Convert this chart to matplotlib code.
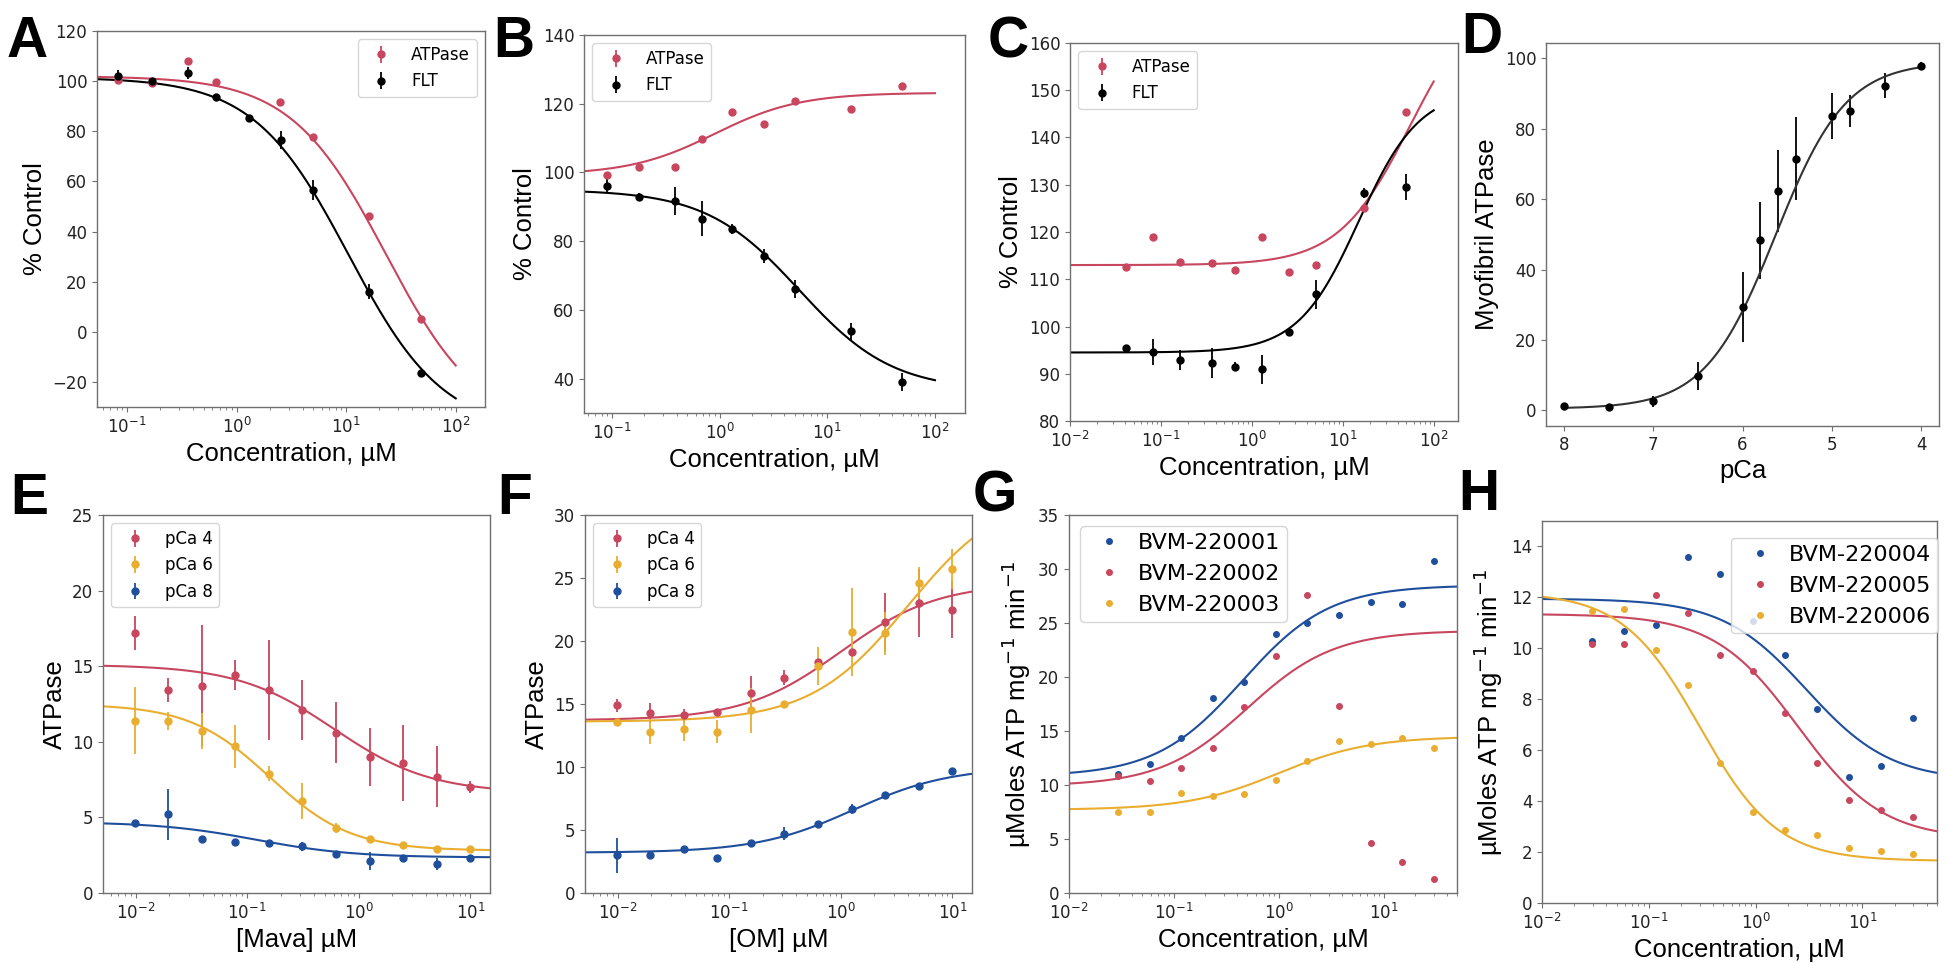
import numpy as np
import matplotlib.pyplot as plt

RED = '#c8465e'
YELLOW = '#e9ad2f'
BLUE = '#1f4f9c'
BLACK = 'black'
LABEL_FONT = 'Liberation Sans'

# A
a_conc_atp = [0.083, 0.17, 0.36, 0.65, 2.5, 5.0, 16.0, 48.0]
a_atp = [100.4, 99.3, 108.2, 99.7, 91.6, 77.9, 46.3, 5.2]
a_atp_err = [0.8, 0.8, 0.8, 0.8, 0.8, 0.8, 0.8, 0.8]
a_conc_flt = [0.083, 0.17, 0.36, 0.65, 1.29, 2.55, 5.0, 16.3, 48.0]
a_flt = [102.0, 99.9, 103.3, 93.6, 85.4, 76.5, 56.4, 16.0, -16.6]
a_flt_err = [2.5, 1.0, 2.5, 1.0, 1.2, 3.5, 4.0, 3.0, 1.5]
a_fit_atp = (102.0, -40.0, 23.0, 1.0)
a_fit_flt = (101.5, -40.0, 10.5, 1.0)

# B
b_conc = [0.09, 0.178, 0.385, 0.69, 1.31, 2.58, 5.0, 16.5, 49.0]
b_atp = [99.2, 101.7, 101.7, 109.6, 117.5, 114.1, 120.9, 118.4, 125.1]
b_atp_err = [0.8, 0.8, 0.8, 0.8, 0.8, 0.8, 0.8, 0.8, 0.8]
b_flt = [96.2, 92.9, 91.7, 86.6, 83.6, 75.6, 66.1, 53.8, 39.0]
b_flt_err = [2.0, 1.0, 4.0, 5.0, 1.5, 2.0, 2.5, 2.5, 2.5]
b_fit_atp = (99.3, 123.2, 0.9, 1.1)
b_fit_flt = (95.0, 36.5, 5.5, 1.0)

# C
c_conc = [0.041, 0.082, 0.163, 0.362, 0.645, 1.3, 2.57, 5.1, 16.9, 50.0]
c_atp = [112.6, 118.9, 113.7, 113.5, 111.9, 118.9, 111.5, 113.1, 125.1, 145.5]
c_atp_err = [0.5, 0.5, 0.5, 0.5, 0.5, 0.5, 0.5, 0.5, 0.5, 0.5]
c_flt = [95.4, 94.6, 92.9, 92.3, 91.5, 90.9, 98.8, 106.8, 128.3, 129.5]
c_flt_err = [0.5, 2.8, 2.2, 3.2, 1.0, 3.0, 0.5, 3.0, 1.0, 2.8]
c_fit_atp = (113.0, 172.0, 55.0, 1.1)
c_fit_flt = (94.5, 150.1, 15.0, 1.3)

# D
d_pca = [8.0, 7.5, 7.0, 6.5, 6.0, 5.8, 5.6, 5.4, 5.0, 4.8, 4.4, 4.0]
d_atp = [1.2, 1.0, 2.6, 9.8, 29.4, 48.3, 62.3, 71.5, 83.6, 84.9, 92.2, 97.7]
d_err = [0.3, 0.3, 1.5, 4.0, 10.0, 11.0, 11.5, 11.7, 6.5, 4.5, 3.5, 1.2]
d_fit = (0.5, 99.0, 5.63, 1.1)

# E, F
ef_conc = [0.00977, 0.0195, 0.039, 0.078, 0.156, 0.3125, 0.625, 1.25, 2.5, 5.0, 10.0]
e_p4 = [17.2, 13.4, 13.7, 14.4, 13.4, 12.1, 10.6, 9.0, 8.6, 7.7, 7.0]
e_p4_err = [1.1, 0.8, 4.0, 1.0, 3.3, 2.0, 2.0, 1.9, 2.5, 2.0, 0.4]
e_p6 = [11.4, 11.4, 10.7, 9.7, 7.9, 6.1, 4.3, 3.6, 3.2, 2.9, 2.9]
e_p6_err = [2.2, 0.6, 1.2, 1.4, 0.5, 1.2, 0.3, 0.2, 0.1, 0.1, 0.1]
e_p8 = [4.6, 5.2, 3.6, 3.4, 3.3, 3.1, 2.6, 2.1, 2.3, 1.9, 2.3]
e_p8_err = [0.1, 1.7, 0.1, 0.2, 0.1, 0.3, 0.1, 0.6, 0.1, 0.4, 0.1]
e_fits = [(15.1, 6.6, 0.6, 1.0), (12.5, 2.8, 0.16, 1.2), (4.7, 2.35, 0.12, 1.0)]

f_p4 = [14.9, 14.3, 14.1, 14.4, 15.9, 17.1, 18.3, 19.1, 21.5, 23.0, 22.5]
f_p4_err = [0.5, 0.8, 0.5, 0.2, 1.3, 0.6, 0.3, 0.3, 2.3, 2.7, 2.3]
f_p6 = [13.6, 12.8, 13.0, 12.8, 14.5, 15.0, 18.0, 20.7, 20.6, 24.6, 25.7]
f_p6_err = [0.2, 1.0, 0.9, 0.9, 1.8, 0.2, 1.5, 3.5, 1.7, 1.3, 1.6]
f_p8 = [3.0, 3.0, 3.5, 2.8, 4.0, 4.7, 5.5, 6.7, 7.8, 8.5, 9.7]
f_p8_err = [1.4, 0.1, 0.1, 0.1, 0.1, 0.5, 0.1, 0.4, 0.1, 0.1, 0.2]
f_fits = [(13.7, 24.6, 1.0, 1.0), (13.6, 32.0, 4.0, 1.0), (3.2, 10.0, 1.3, 1.0)]

pca_labels = ['pCa 4', 'pCa 6', 'pCa 8']

# G, H
gh_conc = [0.0293, 0.0586, 0.117, 0.234, 0.469, 0.9375, 1.875, 3.75, 7.5, 15.0, 30.0]
g_1 = [11.0, 11.9, 14.35, 18.05, 19.5, 24.0, 25.0, 25.7, 26.9, 26.75, 30.7]
g_2 = [10.8, 10.4, 11.6, 13.4, 17.2, 21.9, 27.6, 17.3, 4.6, 2.85, 1.33]
g_3 = [7.5, 7.5, 9.3, 9.0, 9.2, 10.5, 12.2, 14.1, 13.8, 14.35, 13.4]
g_fits = [(10.8, 28.5, 0.45, 1.05), (9.9, 24.3, 0.5, 1.05), (7.7, 14.5, 1.0, 1.0)]
g_labels = ['BVM-220001', 'BVM-220002', 'BVM-220003']

h_4 = [10.3, 10.67, 10.93, 13.59, 12.9, 11.06, 9.74, 7.6, 4.95, 5.39, 7.28]
h_5 = [10.17, 10.17, 12.08, 11.4, 9.73, 9.12, 7.46, 5.51, 4.06, 3.64, 3.38]
h_6 = [11.48, 11.53, 9.92, 8.55, 5.51, 3.59, 2.87, 2.67, 2.16, 2.04, 1.94]
h_fits = [(11.95, 4.8, 3.0, 1.1), (11.35, 2.5, 2.5, 1.1), (12.2, 1.65, 0.3, 1.2)]
h_labels = ['BVM-220004', 'BVM-220005', 'BVM-220006']


def hill(x, fit):
    y_low, y_high, ec50, h = fit
    return y_high + (y_low - y_high) / (1 + (x / ec50) ** h)


def place(fig, l, t, r, b):
    return fig.add_axes([l / 1950, 1 - b / 963, (r - l) / 1950, (b - t) / 963])


def style(ax, xlabel, ylabel):
    for s in ax.spines.values():
        s.set_color('#707070')
        s.set_linewidth(1.0)
    ax.tick_params(which='both', colors='#707070', labelcolor='#222222', labelsize=12)
    ax.set_xlabel(xlabel, fontfamily=LABEL_FONT, fontsize=18.5)
    ax.set_ylabel(ylabel, fontfamily=LABEL_FONT, fontsize=18.5)


def err_panel(ax, x, y, err, color, label):
    ax.errorbar(x, y, yerr=err, fmt='o', color=color, ms=5, elinewidth=1.3,
                capsize=0, label=label)


def curve(ax, lo, hi, fit, color):
    xs = np.logspace(np.log10(lo), np.log10(hi), 300)
    ax.plot(xs, hill(xs, fit), color=color, lw=1.5)


fig = plt.figure(figsize=(19.5, 9.63), dpi=100)

# A
ax = place(fig, 97, 31, 485, 407)
err_panel(ax, a_conc_atp, a_atp, a_atp_err, RED, 'ATPase')
err_panel(ax, a_conc_flt, a_flt, a_flt_err, BLACK, 'FLT')
curve(ax, 0.05, 100, a_fit_atp, RED)
curve(ax, 0.05, 100, a_fit_flt, BLACK)
ax.set_xscale('log')
ax.set_xlim(0.053, 185)
ax.set_ylim(-30, 120)
ax.set_yticks([-20, 0, 20, 40, 60, 80, 100, 120])
ax.legend(loc='upper right', fontsize=12)
style(ax, 'Concentration, µM', '% Control')

# B
ax = place(fig, 584, 35, 965, 413)
err_panel(ax, b_conc, b_atp, b_atp_err, RED, 'ATPase')
err_panel(ax, b_conc, b_flt, b_flt_err, BLACK, 'FLT')
curve(ax, 0.05, 100, b_fit_atp, RED)
curve(ax, 0.05, 100, b_fit_flt, BLACK)
ax.set_xscale('log')
ax.set_xlim(0.055, 190)
ax.set_ylim(30, 140)
ax.set_yticks([40, 60, 80, 100, 120, 140])
ax.legend(loc='upper left', fontsize=12)
style(ax, 'Concentration, µM', '% Control')

# C
ax = place(fig, 1070, 43, 1458, 421)
err_panel(ax, c_conc, c_atp, c_atp_err, RED, 'ATPase')
err_panel(ax, c_conc, c_flt, c_flt_err, BLACK, 'FLT')
curve(ax, 0.01, 100, c_fit_atp, RED)
curve(ax, 0.01, 100, c_fit_flt, BLACK)
ax.set_xscale('log')
ax.set_xlim(0.01, 185)
ax.set_ylim(80, 160)
ax.set_yticks([80, 90, 100, 110, 120, 130, 140, 150, 160])
ax.legend(loc='upper left', fontsize=12)
style(ax, 'Concentration, µM', '% Control')

# D
ax = place(fig, 1546, 43, 1939, 426)
ax.errorbar(d_pca, d_atp, yerr=d_err, fmt='o', color=BLACK, ms=5, elinewidth=1.3, capsize=0)
pcs = np.linspace(8, 4, 300)
y_low, y_high, pca50, nh = d_fit
ax.plot(pcs, hill(10.0 ** -pcs, (y_low, y_high, 10.0 ** -pca50, nh)), color='#333333', lw=1.5)
ax.set_xlim(8.2, 3.8)
ax.set_ylim(-4.4, 104.3)
ax.set_xticks([8, 7, 6, 5, 4])
ax.set_yticks([0, 20, 40, 60, 80, 100])
style(ax, 'pCa', 'Myofibril ATPase')

# E
ax = place(fig, 103, 515, 490, 893)
for vals, errs, col, lab, fit in zip([e_p4, e_p6, e_p8], [e_p4_err, e_p6_err, e_p8_err],
                                     [RED, YELLOW, BLUE], pca_labels, e_fits):
    err_panel(ax, ef_conc, vals, errs, col, lab)
    curve(ax, 0.005, 15, fit, col)
ax.set_xscale('log')
ax.set_xlim(0.0051, 15)
ax.set_ylim(0, 25)
ax.set_yticks([0, 5, 10, 15, 20, 25])
ax.legend(loc='upper left', fontsize=12)
style(ax, '[Mava] µM', 'ATPase')

# F
ax = place(fig, 585, 515, 972, 893)
for vals, errs, col, lab, fit in zip([f_p4, f_p6, f_p8], [f_p4_err, f_p6_err, f_p8_err],
                                     [RED, YELLOW, BLUE], pca_labels, f_fits):
    err_panel(ax, ef_conc, vals, errs, col, lab)
    curve(ax, 0.005, 15, fit, col)
ax.set_xscale('log')
ax.set_xlim(0.0051, 15)
ax.set_ylim(0, 30)
ax.set_yticks([0, 5, 10, 15, 20, 25, 30])
ax.legend(loc='upper left', fontsize=12)
style(ax, '[OM] µM', 'ATPase')

# G
ax = place(fig, 1069, 515, 1457, 893)
for vals, col, lab, fit in zip([g_1, g_2, g_3], [BLUE, RED, YELLOW], g_labels, g_fits):
    ax.plot(gh_conc, vals, 'o', color=col, ms=4, label=lab)
    curve(ax, 0.01, 50, fit, col)
ax.set_xscale('log')
ax.set_xlim(0.01, 50)
ax.set_ylim(0, 35)
ax.set_yticks([0, 5, 10, 15, 20, 25, 30, 35])
ax.legend(loc='upper left', fontsize=16, handletextpad=0.3, borderpad=0.3)
style(ax, 'Concentration, µM', 'µMoles ATP mg$^{-1}$ min$^{-1}$')

# H
ax = place(fig, 1542, 521, 1937, 903)
for vals, col, lab, fit in zip([h_4, h_5, h_6], [BLUE, RED, YELLOW], h_labels, h_fits):
    ax.plot(gh_conc, vals, 'o', color=col, ms=4, label=lab)
    curve(ax, 0.01, 50, fit, col)
ax.set_xscale('log')
ax.set_xlim(0.01, 50)
ax.set_ylim(0, 15)
ax.set_yticks([0, 2, 4, 6, 8, 10, 12, 14])
ax.legend(loc='upper right', bbox_to_anchor=(1.03, 0.985), fontsize=16,
          handletextpad=0.3, borderpad=0.3)
style(ax, 'Concentration, µM', 'µMoles ATP mg$^{-1}$ min$^{-1}$')

letters = [('A', 7, 15), ('B', 493, 15), ('C', 988, 15), ('D', 1461, 11),
           ('E', 10, 472), ('F', 497, 472), ('G', 973, 470), ('H', 1458, 468)]
for s, px, py in letters:
    fig.text(px / 1950, 1 - py / 963, s, fontsize=41, fontweight='bold',
             fontfamily=LABEL_FONT, va='top', ha='left')

fig.savefig('out.png', dpi=100)
